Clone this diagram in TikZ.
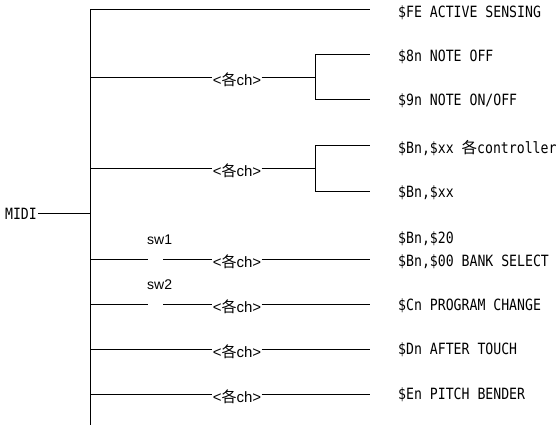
\documentclass[tikz,border=0pt]{standalone}
\usepackage{fontspec}
\newfontfamily\monof[FakeStretch=0.85]{DejaVu Sans Mono}
\newfontfamily\sansf{Liberation Sans}
\newfontfamily\cjkf{Noto Sans CJK JP}
\tikzset{
  ln/.style={line width=0.9pt, black},
  mono/.style={font=\monof\fontsize{15.5}{17}\selectfont, anchor=west, inner sep=0pt},
  chlab/.style={font=\sansf\fontsize{15}{17}\selectfont, minimum width=49pt, inner sep=0pt, align=center},
  swlab/.style={font=\sansf\fontsize{14}{16}\selectfont, anchor=west, inner sep=0pt},
  toText/.style={shorten >=28pt}
}
\newcommand{\chtext}{<{\cjkf 各}ch>}
\begin{document}
\begin{tikzpicture}[x=1pt,y=-1pt]
\useasboundingbox (0,0) rectangle (559,426);
% trunk
\coordinate (ttop) at (90,9);
\coordinate (tbot) at (90,425);
\draw[ln] (ttop) -- (tbot);
% MIDI
\node[font=\monof\fontsize{15.5}{17}\selectfont, anchor=east, inner sep=1pt] (midi) at (38,214) {MIDI};
\coordinate (bm) at (90,213);
\draw[ln] (midi.east |- bm) -- (bm);
% right column texts
\node[mono] (tfe) at (398,13) {\$FE ACTIVE SENSING};
\node[mono] (t8n) at (398,57) {\$8n NOTE OFF};
\node[mono] (t9n) at (398,101) {\$9n NOTE ON/OFF};
\node[mono] (tbc) at (398,148) {\$Bn,\$xx {\cjkf 各}controller};
\node[mono] (tbx) at (398,193) {\$Bn,\$xx};
\node[mono] (tb20) at (398,239) {\$Bn,\$20};
\node[mono] (tb00) at (398,262) {\$Bn,\$00 BANK SELECT};
\node[mono] (tcn) at (398,306) {\$Cn PROGRAM CHANGE};
\node[mono] (tdn) at (398,350) {\$Dn AFTER TOUCH};
\node[mono] (ten) at (398,395) {\$En PITCH BENDER};
% branch FE
\draw[ln, toText] (ttop) -- (ttop -| tfe.west);
% branch 2 (note)
\coordinate (b2) at (90,77);
\node[chlab] (l2) at (237,80) {\chtext};
\coordinate (j2) at (315,77);
\coordinate (j2t) at (315,54);
\coordinate (j2b) at (315,99);
\draw[ln] (b2) -- (l2.west |- b2);
\draw[ln] (l2.east |- b2) -- (j2);
\draw[ln] (j2t) -- (j2b);
\draw[ln, toText] (j2t) -- (j2t -| t8n.west);
\draw[ln, toText] (j2b) -- (j2b -| t9n.west);
% branch 3 (controller)
\coordinate (b3) at (90,168);
\node[chlab] (l3) at (237,171) {\chtext};
\coordinate (j3) at (315,168);
\coordinate (j3t) at (315,145);
\coordinate (j3b) at (315,191);
\draw[ln] (b3) -- (l3.west |- b3);
\draw[ln] (l3.east |- b3) -- (j3);
\draw[ln] (j3t) -- (j3b);
\draw[ln, toText] (j3t) -- (j3t -| tbc.west);
\draw[ln, toText] (j3b) -- (j3b -| tbx.west);
% branch sw1
\coordinate (b4) at (90,259);
\coordinate (g4a) at (148,259);
\coordinate (g4b) at (163,259);
\node[swlab] (sw1) at (147,240) {sw1};
\node[chlab] (l4) at (237,262) {\chtext};
\draw[ln] (b4) -- (g4a);
\draw[ln] (g4b) -- (l4.west |- b4);
\draw[ln, toText] (l4.east |- b4) -- (b4 -| tb00.west);
% branch sw2
\coordinate (b5) at (90,304);
\coordinate (g5a) at (148,304);
\coordinate (g5b) at (163,304);
\node[swlab] (sw2) at (147,285) {sw2};
\node[chlab] (l5) at (237,307) {\chtext};
\draw[ln] (b5) -- (g5a);
\draw[ln] (g5b) -- (l5.west |- b5);
\draw[ln, toText] (l5.east |- b5) -- (b5 -| tcn.west);
% branch Dn
\coordinate (b6) at (90,349);
\node[chlab] (l6) at (237,352) {\chtext};
\draw[ln] (b6) -- (l6.west |- b6);
\draw[ln, toText] (l6.east |- b6) -- (b6 -| tdn.west);
% branch En
\coordinate (b7) at (90,394);
\node[chlab] (l7) at (237,397) {\chtext};
\draw[ln] (b7) -- (l7.west |- b7);
\draw[ln, toText] (l7.east |- b7) -- (b7 -| ten.west);
\end{tikzpicture}
\end{document}
